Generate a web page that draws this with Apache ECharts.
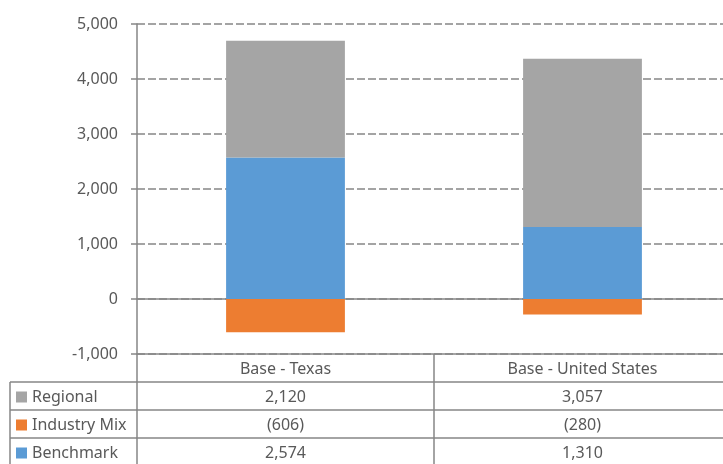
<!DOCTYPE html>
<html>
<head>
<meta charset="utf-8">
<script src="https://cdn.jsdelivr.net/npm/echarts@6/dist/echarts.min.js"></script>
<style>
  html, body { margin: 0; padding: 0; background: #fff; }
  #chart { width: 723px; height: 464px; }
</style>
</head>
<body>
<div id="chart"></div>
<script>
const categories = ["Base - Texas", "Base - United States"];
const regional = [2120, 3057];
const industryMix = [-606, -280];
const benchmark = [2574, 1310];
const rowNames = ["Regional", "Industry Mix", "Benchmark"];

const gridColor = "#868686";
const textColor = "#595959";
const font = "Noto Sans";
const fontSize = 16;

// excel style: 2,120 / (606)
const fmt = (v) => {
  const s = Math.abs(v).toLocaleString("en-US");
  return v < 0 ? "(" + s + ")" : s;
};

const tableRows = [categories, regional.map(fmt), industryMix.map(fmt), benchmark.map(fmt)];
const rowH = 28;
const tableTop = 354;

// one extra x axis per table row, lines and ticks make the cell borders
const tableAxes = tableRows.map((row, i) => ({
  type: "category",
  data: categories,
  position: "bottom",
  offset: i * rowH,
  axisLine: { onZero: false, lineStyle: { color: gridColor, width: 1.5 } },
  axisTick: { show: true, length: rowH, lineStyle: { color: gridColor, width: 1.5 } },
  axisLabel: {
    margin: 7,
    color: textColor,
    fontFamily: font,
    fontSize: fontSize,
    formatter: (v, idx) => row[idx],
  },
  splitLine: { show: false },
}));

// row headers with their colour keys, one legend per table row
const legends = rowNames.map((name, i) => ({
  data: [name],
  left: 16,
  top: tableTop + rowH * (i + 1),
  height: rowH,
  padding: [1, 0, 0, 0],
  icon: "rect",
  itemWidth: 11,
  itemHeight: 11,
  textStyle: { color: textColor, fontFamily: font, fontSize: fontSize, lineHeight: rowH },
}));

const chart = echarts.init(document.getElementById("chart"));
chart.setOption({
  animation: false,
  grid: { left: 137, top: 24, width: 594, height: 330, outerBoundsMode: "none" },
  legend: legends,
  xAxis: [
    {
      type: "category",
      data: categories,
      axisLine: { onZero: true, lineStyle: { color: gridColor, width: 1.5 } },
      axisTick: { show: false },
      axisLabel: { show: false },
    },
  ].concat(tableAxes),
  yAxis: {
    type: "value",
    min: -1000,
    max: 5000,
    interval: 1000,
    axisLine: { show: true, lineStyle: { color: gridColor, width: 1.5 } },
    axisTick: { show: true, length: 6, lineStyle: { color: gridColor, width: 1.5 } },
    axisLabel: {
      margin: 19,
      color: textColor,
      fontFamily: font,
      fontSize: fontSize,
      formatter: (v) => v.toLocaleString("en-US"),
    },
    splitLine: { lineStyle: { color: gridColor, width: 1.5, type: [8, 3] } },
  },
  series: [
    { name: "Benchmark", type: "bar", stack: "total", barWidth: "40%", data: benchmark, itemStyle: { color: "#5B9BD5" } },
    { name: "Regional", type: "bar", stack: "total", barWidth: "40%", data: regional, itemStyle: { color: "#A5A5A5" } },
    { name: "Industry Mix", type: "bar", stack: "total", barWidth: "40%", data: industryMix, itemStyle: { color: "#ED7D31" } },
  ],
  graphic: [
    { type: "line", shape: { x1: 10, y1: 382, x2: 137, y2: 382 }, style: { stroke: gridColor, lineWidth: 1.5 } },
    { type: "line", shape: { x1: 10, y1: 410, x2: 137, y2: 410 }, style: { stroke: gridColor, lineWidth: 1.5 } },
    { type: "line", shape: { x1: 10, y1: 438, x2: 137, y2: 438 }, style: { stroke: gridColor, lineWidth: 1.5 } },
    { type: "line", shape: { x1: 10, y1: 382, x2: 10, y2: 470 }, style: { stroke: gridColor, lineWidth: 1.5 } },
  ],
});
</script>
</body>
</html>
